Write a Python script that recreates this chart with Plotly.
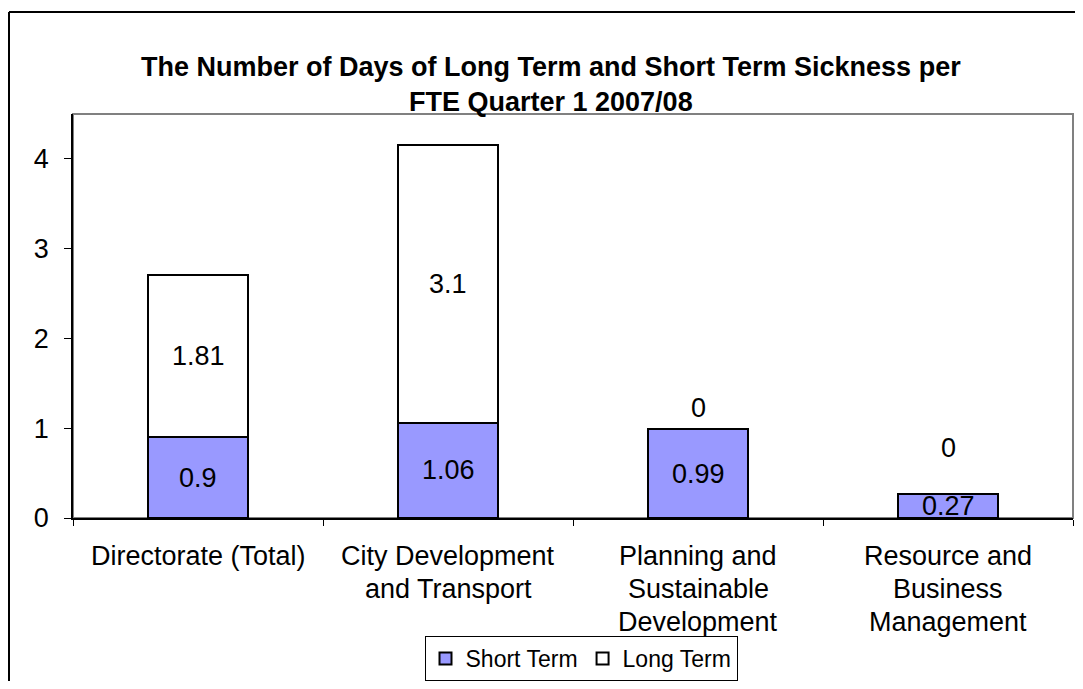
import plotly.graph_objects as go

categories = ["Directorate (Total)", "City Development<br>and Transport",
              "Planning and<br>Sustainable<br>Development",
              "Resource and<br>Business<br>Management"]
short_term = [0.9, 1.06, 0.99, 0.27]
long_term = [1.81, 3.1, 0, 0]
short_labels = ["0.9", "1.06", "0.99", "0.27"]
long_labels = ["1.81", "3.1", "0", "0"]
zero_label_shift = [0, 0, 21, 46]  # px above bar top for zero-height segments
title_lines = ["The Number of Days of Long Term and Short Term Sickness per",
               "FTE Quarter 1 2007/08"]

FONT = "Liberation Sans, Arial, sans-serif"
FS = 27
SHORT_COLOR = "#9999FF"

# page geometry (page has an 8px body margin around the figure)
OFF = 8
PAGE_W, PAGE_H = 1083, 689
W, H = PAGE_W - 2 * OFF, PAGE_H - 2 * OFF
PLOT_L, PLOT_R, PLOT_T, PLOT_B = 73, 1073, 114, 518
PH = PLOT_B - PLOT_T
PW = PLOT_R - PLOT_L


def py(page_y):
    return (PLOT_B - page_y) / PH


def px(page_x):
    return (page_x - PLOT_L) / PW


fig = go.Figure()
fig.add_trace(go.Bar(x=categories, y=short_term, name="Short Term",
                     marker=dict(color=SHORT_COLOR, line=dict(color="black", width=2)),
                     width=0.4))
fig.add_trace(go.Bar(x=categories, y=long_term, name="Long Term",
                     marker=dict(color="white", line=dict(color="black", width=2)),
                     width=0.4))

tf = dict(size=FS, color="black", family=FONT)
ann = []
for c, s, l, sl, ll, zs in zip(categories, short_term, long_term, short_labels, long_labels, zero_label_shift):
    ann.append(dict(x=c, y=s / 2, text=sl, showarrow=False, xref="x", yref="y", font=tf))
    if l > 0:
        ann.append(dict(x=c, y=s + l / 2, text=ll, showarrow=False, xref="x", yref="y", font=tf))
    else:
        ann.append(dict(x=c, y=s, yshift=zs, text=ll, showarrow=False, xref="x", yref="y", font=tf))
    for i, line in enumerate(c.split("<br>")):
        ann.append(dict(x=c, y=0, yshift=-38 - 33 * i, text=line, showarrow=False,
                        xref="x", yref="y", font=tf))

for t, yp in zip(title_lines, [50, 85]):
    ann.append(dict(x=px(551), y=py(yp), xref="paper", yref="paper",
                    text="<b>" + t + "</b>", showarrow=False,
                    font=dict(size=27, color="black", family=FONT)))

fig.update_layout(
    width=W, height=H,
    margin=dict(l=PLOT_L - OFF, r=W - (PLOT_R - OFF), t=PLOT_T - OFF, b=H - (PLOT_B - OFF),
                autoexpand=False),
    paper_bgcolor="white", plot_bgcolor="white",
    barmode="stack",
    font=dict(family=FONT, size=FS, color="black"),
    annotations=ann,
    showlegend=True,
    legend=dict(orientation="h", traceorder="normal", x=px(581), xanchor="center",
                y=py(681), yanchor="bottom",
                bordercolor="black", borderwidth=1, font=dict(size=23, family=FONT),
                itemwidth=30, tracegroupgap=0),
    xaxis=dict(showline=True, linecolor="black", linewidth=1.5, ticks="outside",
               tickson="boundaries", ticklen=6, tickcolor="black", showticklabels=False,
               showgrid=False, zeroline=False),
    yaxis=dict(range=[0, 4.5], dtick=1, showline=True, linecolor="black", linewidth=1.5,
               ticks="outside", ticklen=7, tickcolor="black", showgrid=False,
               zeroline=False, ticklabelstandoff=10, tickfont=tf),
    shapes=[
        dict(type="rect", xref="paper", yref="paper", x0=0, x1=1, y0=0, y1=1,
             line=dict(color="#808080", width=2), layer="below"),
        dict(type="line", xref="paper", yref="paper", x0=px(9), x1=px(1090),
             y0=py(12), y1=py(12), line=dict(color="black", width=2)),
        dict(type="line", xref="paper", yref="paper", x0=px(9), x1=px(9),
             y0=py(12), y1=py(700), line=dict(color="black", width=2)),
    ],
)

fig.write_html("out.html")
